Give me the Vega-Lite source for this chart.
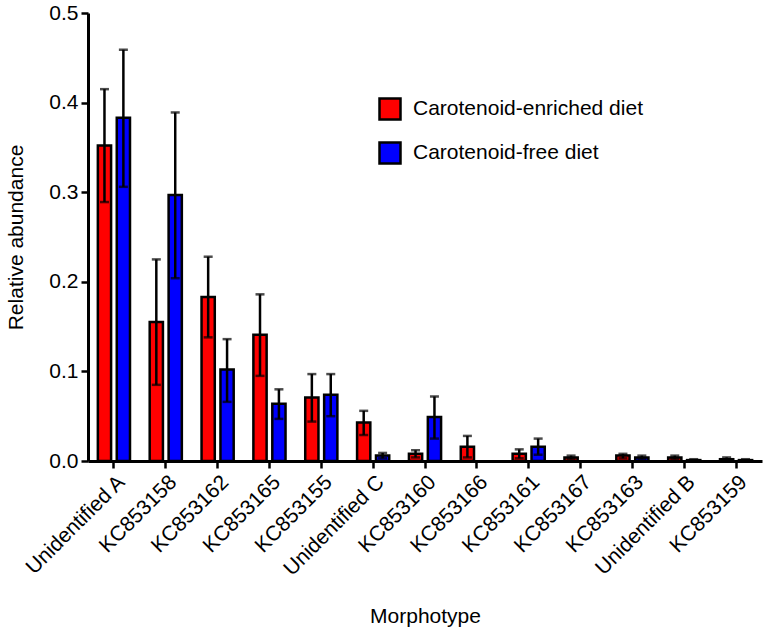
{
  "$schema": "https://vega.github.io/schema/vega-lite/v6.json",
  "width": 674,
  "height": 448,
  "autosize": {"type": "none"},
  "padding": {"left": 88, "top": 13, "right": 5, "bottom": 170},
  "background": "white",
  "config": {
    "font": "Liberation Sans",
    "view": {"stroke": null},
    "axis": {"labelColor": "black", "titleColor": "black", "domainColor": "black", "tickColor": "black", "grid": false}
  },
  "data": {
    "values": [
      {"morph": "Unidentified A", "diet": "Carotenoid-enriched diet", "mean": 0.352, "lo": 0.289, "hi": 0.415},
      {"morph": "Unidentified A", "diet": "Carotenoid-free diet", "mean": 0.383, "lo": 0.306, "hi": 0.459},
      {"morph": "KC853158", "diet": "Carotenoid-enriched diet", "mean": 0.155, "lo": 0.085, "hi": 0.225},
      {"morph": "KC853158", "diet": "Carotenoid-free diet", "mean": 0.297, "lo": 0.204, "hi": 0.389},
      {"morph": "KC853162", "diet": "Carotenoid-enriched diet", "mean": 0.183, "lo": 0.138, "hi": 0.228},
      {"morph": "KC853162", "diet": "Carotenoid-free diet", "mean": 0.102, "lo": 0.066, "hi": 0.136},
      {"morph": "KC853165", "diet": "Carotenoid-enriched diet", "mean": 0.141, "lo": 0.095, "hi": 0.186},
      {"morph": "KC853165", "diet": "Carotenoid-free diet", "mean": 0.064, "lo": 0.047, "hi": 0.080},
      {"morph": "KC853155", "diet": "Carotenoid-enriched diet", "mean": 0.071, "lo": 0.044, "hi": 0.097},
      {"morph": "KC853155", "diet": "Carotenoid-free diet", "mean": 0.074, "lo": 0.050, "hi": 0.097},
      {"morph": "Unidentified C", "diet": "Carotenoid-enriched diet", "mean": 0.043, "lo": 0.029, "hi": 0.056},
      {"morph": "Unidentified C", "diet": "Carotenoid-free diet", "mean": 0.006, "lo": 0.003, "hi": 0.009},
      {"morph": "KC853160", "diet": "Carotenoid-enriched diet", "mean": 0.008, "lo": 0.004, "hi": 0.012},
      {"morph": "KC853160", "diet": "Carotenoid-free diet", "mean": 0.049, "lo": 0.025, "hi": 0.072},
      {"morph": "KC853166", "diet": "Carotenoid-enriched diet", "mean": 0.016, "lo": 0.004, "hi": 0.028},
      {"morph": "KC853161", "diet": "Carotenoid-enriched diet", "mean": 0.008, "lo": 0.003, "hi": 0.013},
      {"morph": "KC853161", "diet": "Carotenoid-free diet", "mean": 0.016, "lo": 0.007, "hi": 0.025},
      {"morph": "KC853167", "diet": "Carotenoid-enriched diet", "mean": 0.004, "lo": 0.002, "hi": 0.006},
      {"morph": "KC853163", "diet": "Carotenoid-enriched diet", "mean": 0.006, "lo": 0.003, "hi": 0.008},
      {"morph": "KC853163", "diet": "Carotenoid-free diet", "mean": 0.004, "lo": 0.002, "hi": 0.006},
      {"morph": "Unidentified B", "diet": "Carotenoid-enriched diet", "mean": 0.004, "lo": 0.002, "hi": 0.006},
      {"morph": "Unidentified B", "diet": "Carotenoid-free diet", "mean": 0.001, "lo": 0.0, "hi": 0.002},
      {"morph": "KC853159", "diet": "Carotenoid-enriched diet", "mean": 0.002, "lo": 0.001, "hi": 0.004},
      {"morph": "KC853159", "diet": "Carotenoid-free diet", "mean": 0.001, "lo": 0.0, "hi": 0.002}
    ]
  },
  "encoding": {
    "x": {
      "field": "morph",
      "type": "nominal",
      "sort": ["Unidentified A", "KC853158", "KC853162", "KC853165", "KC853155", "Unidentified C", "KC853160", "KC853166", "KC853161", "KC853167", "KC853163", "Unidentified B", "KC853159"],
      "scale": {"paddingInner": 0.38, "paddingOuter": 0.19},
      "axis": {
        "title": "Morphotype",
        "labelAngle": -45,
        "labelFontSize": 21,
        "labelPadding": 3,
        "labelLimit": 400,
        "tickSize": 7,
        "tickWidth": 2.5,
        "domainWidth": 3,
        "titleFontSize": 21,
        "titleFontWeight": "normal",
        "titleY": 161,
        "titleBaseline": "alphabetic"
      }
    },
    "xOffset": {
      "field": "diet",
      "type": "nominal",
      "sort": ["Carotenoid-enriched diet", "Carotenoid-free diet"],
      "scale": {"paddingInner": 0.3}
    }
  },
  "layer": [
    {
      "mark": {"type": "bar", "stroke": "black", "strokeWidth": 2.5},
      "encoding": {
        "y": {
          "field": "mean",
          "type": "quantitative",
          "scale": {"domain": [0, 0.5], "nice": false},
          "axis": {
            "title": "Relative abundance",
            "values": [0, 0.1, 0.2, 0.3, 0.4, 0.5],
            "format": ".1f",
            "labelFontSize": 21,
            "labelPadding": 3,
            "tickSize": 7,
            "tickWidth": 2.5,
            "domainWidth": 3,
            "titleFontSize": 21,
            "titleFontWeight": "normal",
            "titleX": -66,
            "titleBaseline": "alphabetic"
          }
        },
        "color": {
          "field": "diet",
          "type": "nominal",
          "sort": ["Carotenoid-enriched diet", "Carotenoid-free diet"],
          "scale": {"domain": ["Carotenoid-enriched diet", "Carotenoid-free diet"], "range": ["#ff0000", "#0000ff"]},
          "legend": {
            "title": null,
            "orient": "none",
            "legendX": 290,
            "legendY": 84,
            "symbolType": "square",
            "symbolSize": 441,
            "symbolStrokeColor": "black",
            "symbolStrokeWidth": 2.5,
            "symbolOpacity": 1,
            "labelFontSize": 21,
            "labelColor": "black",
            "labelLimit": 400,
            "labelOffset": 11,
            "rowPadding": 12
          }
        }
      }
    },
    {
      "mark": {"type": "rule", "color": "black", "strokeWidth": 2.5},
      "encoding": {
        "y": {"field": "lo", "type": "quantitative"},
        "y2": {"field": "hi"}
      }
    },
    {
      "mark": {"type": "tick", "color": "black", "size": 9, "thickness": 2.5, "orient": "horizontal"},
      "encoding": {"y": {"field": "lo", "type": "quantitative"}}
    },
    {
      "mark": {"type": "tick", "color": "black", "size": 9, "thickness": 2.5, "orient": "horizontal"},
      "encoding": {"y": {"field": "hi", "type": "quantitative"}}
    }
  ]
}
